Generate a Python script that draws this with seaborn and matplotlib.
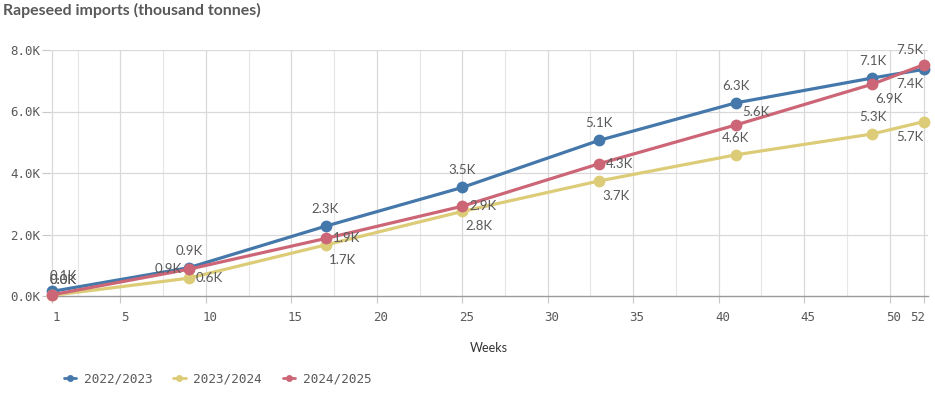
import numpy as np
import pandas as pd
import seaborn as sns
import matplotlib
matplotlib.use("Agg")
import matplotlib.pyplot as plt
from matplotlib.lines import Line2D
from matplotlib.ticker import FuncFormatter
import matplotlib.transforms as mtrans

# ---- data ----
weeks = [1, 9, 17, 25, 33, 41, 49, 52]
seasons = ["2022/2023", "2023/2024", "2024/2025"]
imports_2022_2023 = [150, 920, 2270, 3530, 5060, 6280, 7090, 7370]
imports_2023_2024 = [20, 580, 1660, 2750, 3740, 4590, 5270, 5670]
imports_2024_2025 = [40, 870, 1870, 2920, 4300, 5560, 6890, 7520]
x_ticks = [1, 5, 10, 15, 20, 25, 30, 35, 40, 45, 50, 52]
y_ticks = [0, 2000, 4000, 6000, 8000]

colors = ["#4477aa", "#ddcc77", "#cc6677"]
# label placement per point (style only)
placements = {
    "2022/2023": ["al", "a", "a", "a", "a", "a", "a", "br"],
    "2023/2024": ["al", "r", "bl", "bl", "bl", "a", "a", "br"],
    "2024/2025": ["al", "l", "r", "r", "r", "ur", "bl", "ar"],
}

df = pd.DataFrame({
    "week": weeks * 3,
    "value": imports_2022_2023 + imports_2023_2024 + imports_2024_2025,
    "season": [s for s in seasons for _ in weeks],
})

sns.set_theme(style="white")
plt.rcParams["font.family"] = ["DejaVu Sans Mono"]

fig = plt.figure(figsize=(9.35, 3.96), dpi=100)
ax = fig.add_axes([50 / 935, 1 - 296 / 396, (928 - 50) / 935, (296 - 50) / 396])

sns.lineplot(data=df, x="week", y="value", hue="season", hue_order=seasons,
             palette=colors, marker="o", markersize=8.5, markeredgewidth=0,
             linewidth=2.3, ax=ax, legend=False, clip_on=False, zorder=3)
for ln in ax.lines:
    ln.set_clip_on(False)

ax.set_xlim(0.88, 52.25)
ax.set_ylim(0, 8000)

# grid
minor_x = [2.5 + 5 * i for i in range(10)]
for xv in x_ticks:
    ax.axvline(xv, color="#d9d9d9", lw=0.9, zorder=0)
for xv in minor_x:
    ax.axvline(xv, color="#e6e6e6", lw=0.8, zorder=0)
for yv in y_ticks[1:]:
    ax.axhline(yv, color="#d9d9d9", lw=0.9, zorder=0)

for s in ["top", "right", "left"]:
    ax.spines[s].set_visible(False)
ax.spines["bottom"].set_color("#9a9a9a")
ax.spines["bottom"].set_linewidth(1.0)

ax.set_xticks(x_ticks)
ax.set_yticks(y_ticks)
ax.yaxis.set_major_formatter(FuncFormatter(lambda v, p: f"{v/1000:.1f}K"))
ax.tick_params(axis="x", length=5, width=0.8, color="#c8c8c8", pad=6,
               labelsize=9, labelcolor="#595959", bottom=True)
ax.tick_params(axis="y", length=5.5, width=0.8, color="#c8c8c8", pad=1.5,
               labelsize=9, labelcolor="#595959", left=True)

for lab, xv in zip(ax.get_xticklabels(), x_ticks):
    dx = 4 if xv != 52 else -6
    lab.set_transform(lab.get_transform() + mtrans.ScaledTranslation(dx / 100, 0, fig.dpi_scale_trans))

ax.set_xlabel("Weeks", fontsize=9, color="#333333", family="Lato", labelpad=13)
ax.set_ylabel("")

# data labels
offs = {
    "a": (0, 11, "center", "bottom"),
    "al": (-2, 9, "left", "bottom"),
    "ar": (0, 9, "right", "bottom"),
    "b": (0, -9, "center", "top"),
    "bl": (3, -9, "left", "top"),
    "br": (0, -9, "right", "top"),
    "r": (7, 0, "left", "center"),
    "l": (-7, 0, "right", "center"),
    "ur": (7, 7, "left", "bottom"),
}
series_vals = {"2022/2023": imports_2022_2023, "2023/2024": imports_2023_2024,
               "2024/2025": imports_2024_2025}
for s in seasons:
    for xv, yv, pl in zip(weeks, series_vals[s], placements[s]):
        dx, dy, ha, va = offs[pl]
        ax.annotate(f"{yv/1000:.1f}K", (xv, yv), xytext=(dx * 0.72, dy * 0.72),
                    textcoords="offset points", ha=ha, va=va, fontsize=9.5,
                    color="#595959", family="Lato", zorder=5, annotation_clip=False)

# title
fig.text(3 / 935, 1 - 10 / 396, "Rapeseed imports (thousand tonnes)", fontsize=11.4,
         fontweight="bold", color="#595959", family="Lato", ha="left", va="center")

# legend
handles = [Line2D([0], [0], color=c, lw=2, marker="o", markersize=5, markeredgewidth=0)
           for c in colors]
fig.legend(handles, seasons, loc="center left", bbox_to_anchor=(52 / 935, 1 - 379 / 396),
           ncol=3, frameon=False, labelcolor="#595959", handlelength=1.0,
           handletextpad=0.6, columnspacing=1.6, prop={"family": "DejaVu Sans Mono", "size": 9.2})

fig.savefig("out.png", dpi=100)
